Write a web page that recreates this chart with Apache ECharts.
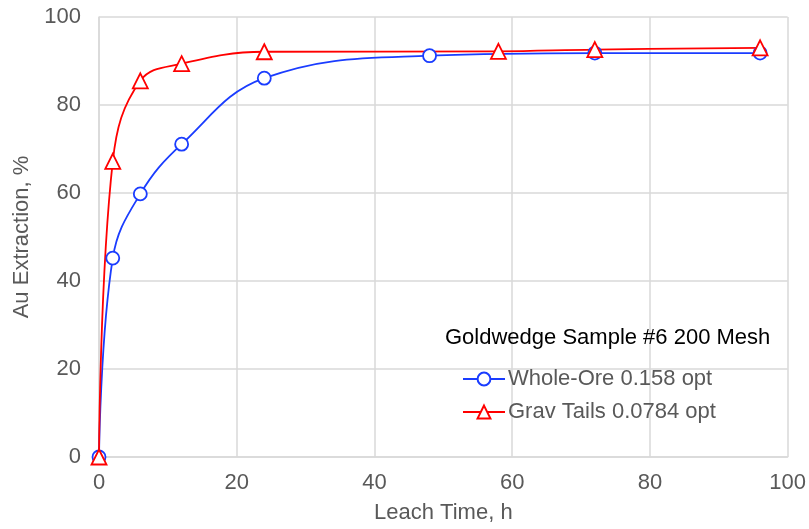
<!DOCTYPE html>
<html><head><meta charset="utf-8">
<script src="https://cdn.jsdelivr.net/npm/echarts@6/dist/echarts.min.js"></script>
<style>html,body{margin:0;padding:0;background:#fff}#c{width:809px;height:529px}</style>
</head><body><div id="c"></div>
<script>
const wholeOreX = [0, 2, 6, 12, 24, 48, 72, 96];
const wholeOreY = [0, 45.2, 59.8, 71.1, 86.1, 91.2, 91.8, 91.8];
const gravTailsX = [0, 2, 6, 12, 24, 58, 72, 96];
const gravTailsY = [0, 67.2, 85.5, 89.4, 92.1, 92.2, 92.6, 93.0];
const seriesNames = ['Whole-Ore 0.158 opt', 'Grav Tails 0.0784 opt'];
const legendTitle = 'Goldwedge Sample #6 200 Mesh';
const xTitle = 'Leach Time, h';
const yTitle = 'Au Extraction, %';

const font = '"Liberation Sans", Arial, sans-serif';
const chart = echarts.init(document.getElementById('c'), null, {renderer: 'canvas'});
const pair = (xs, ys) => xs.map((x, i) => [x, ys[i]]);
chart.setOption({
  animation: false,
  title: {
    text: legendTitle, left: 440, top: 322,
    textStyle: {fontFamily: font, fontSize: 22, fontWeight: 'normal', color: '#000'}
  },
  legend: {
    orient: 'vertical', left: 457, top: 363, itemGap: 11,
    itemWidth: 42, itemHeight: 16,
    textStyle: {fontFamily: font, fontSize: 22, color: '#595959', padding: [0, 0, 0, -2]},
    data: seriesNames
  },
  grid: {left: 99, right: 20, top: 17, bottom: 71},
  xAxis: {
    type: 'value', min: 0, max: 100, interval: 20,
    name: xTitle, nameLocation: 'middle', nameGap: 45,
    nameTextStyle: {fontFamily: font, fontSize: 22, color: '#595959'},
    axisLine: {lineStyle: {color: '#d9d9d9', width: 1.5}},
    axisTick: {show: false},
    axisLabel: {fontFamily: font, fontSize: 22, color: '#595959', margin: 15},
    splitLine: {show: true, lineStyle: {color: '#d9d9d9', width: 1.5}}
  },
  yAxis: {
    type: 'value', min: 0, max: 100, interval: 20,
    name: yTitle, nameLocation: 'middle', nameGap: 59,
    nameTextStyle: {fontFamily: font, fontSize: 22, color: '#595959'},
    axisLine: {show: true, lineStyle: {color: '#d9d9d9', width: 1.5}},
    axisTick: {show: false},
    axisLabel: {fontFamily: font, fontSize: 22, color: '#595959', margin: 18},
    splitLine: {show: true, lineStyle: {color: '#d9d9d9', width: 1.5}}
  },
  series: [
    {
      name: seriesNames[0], type: 'line', data: pair(wholeOreX, wholeOreY),
      smooth: 0.4, symbol: 'circle', symbolSize: 13,
      lineStyle: {color: '#1a3cff', width: 1.8},
      itemStyle: {color: '#fff', borderColor: '#1a3cff', borderWidth: 1.8}
    },
    {
      name: seriesNames[1], type: 'line', data: pair(gravTailsX, gravTailsY),
      smooth: 0.4, symbol: 'triangle', symbolSize: 15,
      lineStyle: {color: '#ff0000', width: 1.8},
      itemStyle: {color: '#fff', borderColor: '#ff0000', borderWidth: 1.8}
    }
  ]
});
</script></body></html>
